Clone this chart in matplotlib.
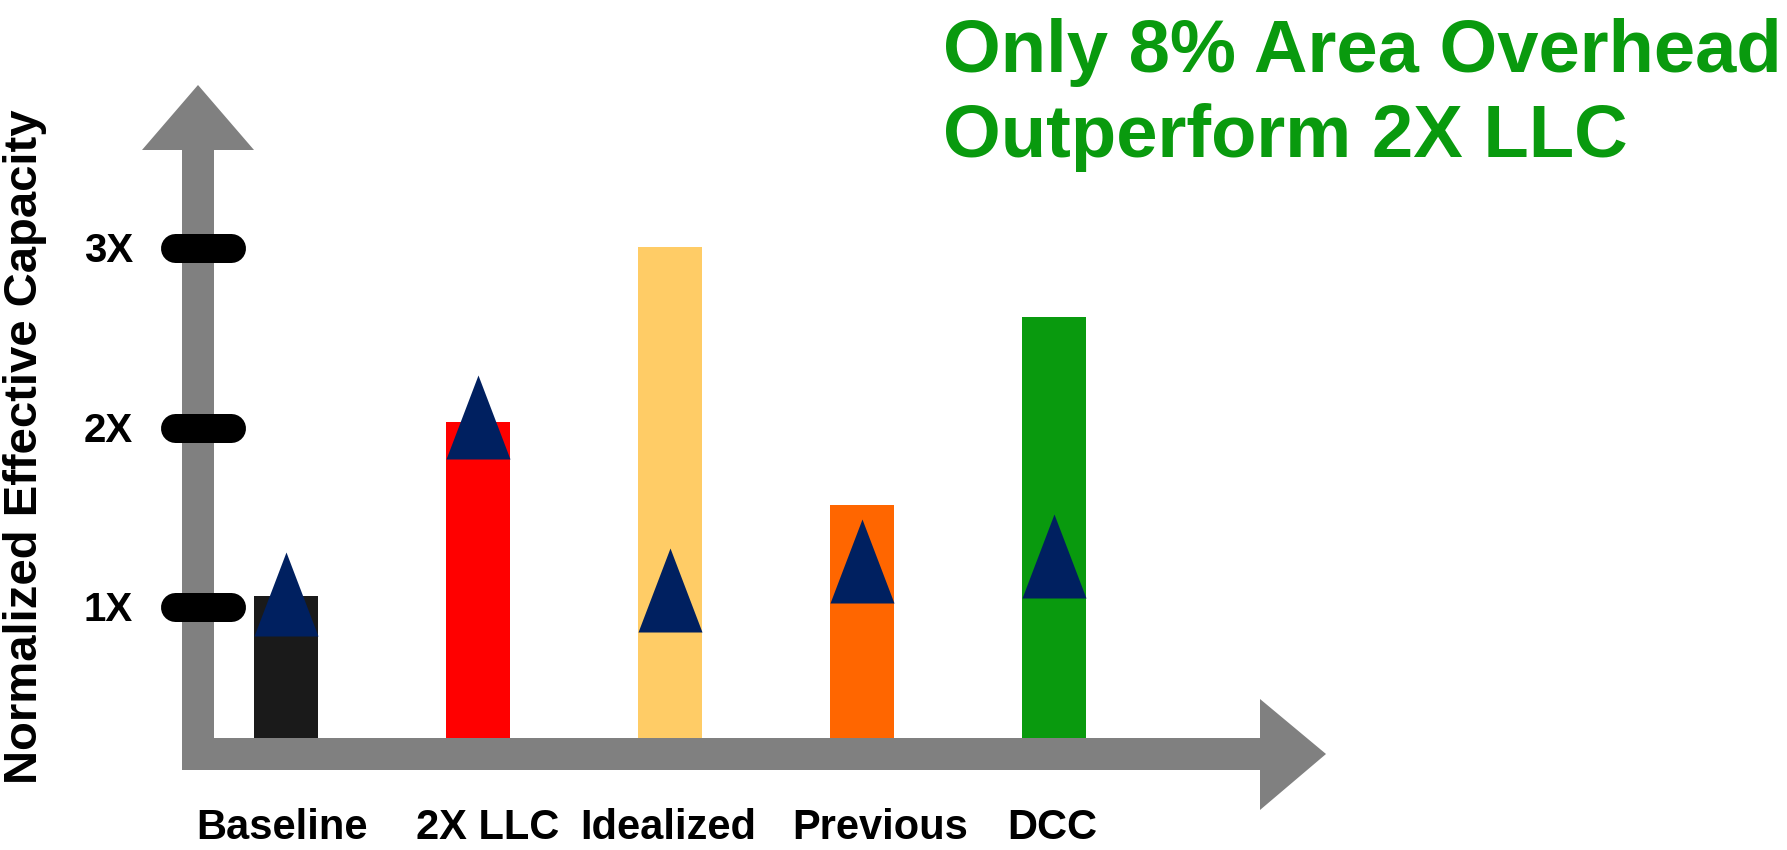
import matplotlib
matplotlib.use("Agg")
import matplotlib.pyplot as plt
from matplotlib.patches import Polygon
import numpy as np

# ---- data -------------------------------------------------------------
categories = ["Baseline", "2X LLC", "Idealized", "Previous", "DCC"]
capacity = [1.06, 2.03, 3.01, 1.57, 2.62]          # bar heights (normalized capacity)
performance = [1.075, 2.057, 1.097, 1.254, 1.284]  # triangle markers
tick_values = [1, 2, 3]
tick_labels = ["1X", "2X", "3X"]
bar_colors = ["#1A1A1A", "#FF0000", "#FFCC66", "#FF6600", "#099A0E"]

title_lines = ["Only 8% Area Overhead", "Outperform 2X LLC"]
ylabel = "Normalized Effective Capacity"

# ---- canvas / coordinate frame ---------------------------------------
W, H = 1787, 850
DPI = 100
X0, XSTEP = 286.0, 192.0      # pixel centre of first bar, pixel spacing
Y0, YSTEP = 786.2, 179.25     # pixel row of value 0, pixels per unit


def dx(px):
    return (px - X0) / XSTEP


def dy(py):
    return (Y0 - py) / YSTEP


plt.rcParams["font.family"] = ["Liberation Sans", "DejaVu Sans"]
plt.rcParams["font.weight"] = "bold"

fig = plt.figure(figsize=(W / DPI, H / DPI), dpi=DPI)
ax = fig.add_axes([0, 0, 1, 1])
ax.set_xlim(dx(0), dx(W))
ax.set_ylim(dy(H), dy(0))
ax.axis("off")

GRAY = "#808080"
NAVY = "#002060"
GREEN = "#099A0E"

# axis baseline (centre of the horizontal arrow shaft)
base = dy(754)

# bars
xpos = np.arange(len(categories))
heights = np.array(capacity) - base
ax.bar(xpos, heights, bottom=base, width=64 / XSTEP, color=bar_colors,
       zorder=2, linewidth=0)

# L-shaped arrow axes
arrow_px = [(182, 770), (182, 150), (142, 150), (198, 85), (254, 150),
            (214, 150), (214, 738), (1260, 738), (1260, 699), (1326, 754),
            (1260, 810), (1260, 770)]
ax.add_patch(Polygon([(dx(x), dy(y)) for x, y in arrow_px], closed=True,
                     facecolor=GRAY, edgecolor="none", zorder=3))

# rounded tick marks with labels
tick_lw = 29 * 72 / DPI
for v, lab in zip(tick_values, tick_labels):
    ax.plot([dx(174.5), dx(230.5)], [v, v], color="black", lw=tick_lw,
            solid_capstyle="round", zorder=4)
    ax.annotate(lab, (dx(133), v), xytext=(0, -14), textcoords="offset pixels",
                ha="right", va="baseline", fontsize=29, fontweight="bold",
                color="black")

# triangle markers (tall isosceles)
tri = [(-0.762, -1.0), (0.762, -1.0), (0.0, 1.0)]
ax.plot(xpos, performance, linestyle="none", marker=tri,
        markersize=84 * 72 / DPI, markerfacecolor=NAVY,
        markeredgewidth=0, zorder=5)

# category labels (slight horizontal nudges in pixels)
label_nudge = [-4, 10, -2, 18, -2]
for i, lab in enumerate(categories):
    ax.annotate(lab, (i, dy(839)), xytext=(label_nudge[i], 0),
                textcoords="offset pixels", ha="center", va="baseline",
                fontsize=30, fontweight="bold", color="black")

# y-axis label
ax.text(dx(25), dy(447), ylabel, rotation=90, ha="center", va="center",
        fontsize=34, fontweight="bold", color="black")

# headline
ax.text(dx(943), dy(72), title_lines[0], ha="left", va="baseline",
        fontsize=53.5, fontweight="bold", color=GREEN)
ax.text(dx(943), dy(157), title_lines[1], ha="left", va="baseline",
        fontsize=53.5, fontweight="bold", color=GREEN)

fig.savefig("out.png", dpi=DPI, facecolor="white")
